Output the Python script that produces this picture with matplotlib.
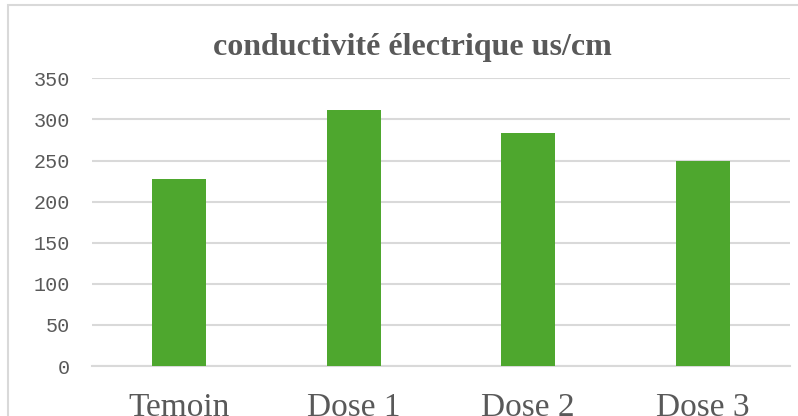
import matplotlib.pyplot as plt
from matplotlib.patches import Rectangle

# conductivité électrique par traitement (us/cm)
categories = ['Temoin', 'Dose 1', 'Dose 2', 'Dose 3']
conductivite = [228, 311, 284, 249]
y_ticks = [0, 50, 100, 150, 200, 250, 300, 350]

bar_color = '#4EA72E'
text_color = '#595959'
grid_color = '#D9D9D9'

fig = plt.figure(figsize=(7.98, 4.16), dpi=100)
ax = fig.add_axes([92 / 798, 1 - 366 / 416, (790 - 92) / 798, (366 - 78.3) / 416])

x = range(len(categories))
ax.bar(x, conductivite, width=0.31, color=bar_color, zorder=3)

ax.set_xlim(-0.5, len(categories) - 0.5)
ax.set_ylim(0, 350)
ax.set_yticks(y_ticks)
ax.set_yticklabels([str(v) for v in y_ticks], family='Liberation Mono',
                   fontsize=14.5, color=text_color)
ax.set_xticks(list(x))
ax.set_xticklabels(categories, family='Liberation Serif', fontsize=24,
                   color=text_color)
ax.tick_params(axis='y', length=0, pad=16)
ax.tick_params(axis='x', length=0, pad=19)

ax.grid(axis='y', color=grid_color, linewidth=1.5, zorder=0)
for side in ['top', 'right', 'left']:
    ax.spines[side].set_visible(False)
ax.spines['bottom'].set_color(grid_color)
ax.spines['bottom'].set_linewidth(1.5)

fig.text(412 / 798, 1 - 47 / 416, 'conductivité électrique us/cm',
         family='Liberation Serif', fontweight='bold', fontsize=23,
         color=text_color, ha='center', va='center')

# cadre du graphique
fig.patches.append(Rectangle((8 / 798, -0.05), 1.0, 1 - 5 / 416 + 0.05,
                             transform=fig.transFigure, fill=False,
                             edgecolor=grid_color, linewidth=1.5))

fig.savefig('out.png', dpi=100)
